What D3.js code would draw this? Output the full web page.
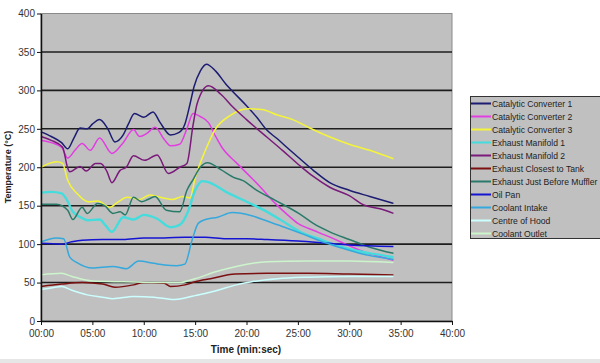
<!DOCTYPE html>
<html>
<head>
<meta charset="utf-8">
<script src="https://cdn.jsdelivr.net/npm/d3@7"></script>
<style>
  body { margin: 0; background: #fff; }
  svg { display: block; font-family: "Liberation Sans", Arial, sans-serif; }
</style>
</head>
<body>
<svg id="chart" width="600" height="363"></svg>
<script>
// series names (legend order) and colours
const names = ["Catalytic Converter 1", "Catalytic Converter 2", "Catalytic Converter 3",
  "Exhaust Manifold 1", "Exhaust Manifold 2", "Exhaust Closest to Tank",
  "Exhaust Just Before Muffler", "Oil Pan", "Coolant Intake", "Centre of Hood", "Coolant Outlet"];
const colors = ["#1c1c72", "#e23ee2", "#f4f43a", "#44dcdc", "#7a1a7a", "#7a1010",
  "#2a7a6a", "#1414d2", "#35a8dc", "#ccffff", "#ccf5cc"];

// [minutes, °C]
const cc1 = [[0,246],[1,240],[2,232],[2.6,224],[3.2,238],[3.8,251],[4.5,250],[5,256],[5.7,262],[6.5,250],[7.2,233],[8,242],[8.5,256],[9.1,270],[10,265],[10.9,272],[11.6,258],[12.6,242],[13.4,245],[14,256],[14.5,282],[14.9,305],[15.5,325],[16.1,334],[17,325],[18,308],[18.7,298],[20,280],[21,265],[22,248],[23,237],[24,225],[25.2,211],[26.5,196],[28.1,180],[30,170],[32,162],[34.3,153]];
const cc2 = [[0,235],[1,232],[2,226],[2.6,212],[3.3,222],[4,231],[4.8,222],[5.7,238],[6.9,218],[8,232],[9,249],[9.6,240],[10.3,244],[11.1,252],[12,236],[12.6,228],[13.5,230],[14.2,250],[14.8,270],[15.5,266],[16.3,258],[17,240],[17.6,226],[19,206],[20.5,186],[21.5,172],[22.8,153],[24,138],[25,127],[26.5,118],[27.6,112],[29.5,101],[31.4,90],[33,84],[34.3,79]];
const cc3 = [[0,200],[0.8,205],[1.5,207],[2.1,205],[2.6,183],[3.5,166],[4.6,155],[5.5,156],[6.7,148],[7.5,155],[8.4,161],[9.6,158],[10.6,164],[11.9,160],[12.8,158],[13.8,162],[14.5,160],[15,186],[16,222],[16.9,248],[18.5,268],[20.1,276],[21.5,275],[23,268],[24.5,262],[26,252],[28,240],[30,230],[32,222],[34.3,211]];
const em1 = [[0,167],[1,168],[2,166],[2.5,158],[3.1,142],[4,134],[4.6,131],[5.7,132],[6.3,124],[6.9,116],[8,135],[9,132],[10,138],[11.3,133],[12.6,122],[13.5,125],[14.3,142],[15,170],[15.7,182],[16.2,181],[18,168],[20.5,152],[22,142],[23.5,130],[25.2,116],[27,107],[28.6,99],[30.5,92],[32.5,87],[34.3,83]];
const em2 = [[0,240],[1,235],[2.1,226],[2.6,199],[2.8,194],[3.8,201],[4.4,195],[5.3,205],[5.8,205],[6.4,195],[6.9,180],[7.7,196],[8.3,200],[9,215],[10.1,209],[11.3,216],[12.4,192],[13.5,200],[14.2,205],[14.8,255],[15.2,283],[16.3,306],[17.5,295],[18.7,278],[20,262],[22,239],[23.5,222],[25.2,202],[26.5,188],[28.1,174],[30,163],[31.4,151],[33,146],[34.3,140]];
const tank = [[0,45],[2,48],[4,50],[6,48],[7.2,44],[9,47],[10,50],[12,49],[12.6,45],[14,47],[15,51],[16.5,55],[18.9,61],[22,62],[26,62],[30,61],[34.3,60]];
const muffler = [[0,152],[1.5,152],[2.6,144],[3.1,132],[4,148],[4.5,140],[5.5,153],[6.2,150],[7,140],[7.7,142],[8.2,138],[9,161],[9.8,155],[10.4,158],[11.1,162],[12.2,144],[13.5,142],[14.2,170],[14.8,184],[15.5,200],[16.2,206],[17.5,197],[18.9,186],[19.6,183],[21,170],[22.8,157],[25.2,139],[26.5,127],[28.1,116],[30,106],[32,96],[34.3,88]];
const oilPan = [[0,101],[2,100],[3,103],[4,105],[6,106],[8,106],[10,108],[12,108],[14,109],[16,109],[18,107],[20,107],[22,106],[25,104],[28,101],[30,99],[34.3,97]];
const intake = [[0,103],[1.5,108],[2.2,107],[2.8,83],[3.5,76],[5,69],[7,71],[8.3,68],[9.5,78],[11,75],[12,73],[13.2,72],[14,74],[14.7,105],[15.3,127],[16,132],[17.2,135],[18.6,141],[20.5,137],[22,130],[23.7,122],[25.5,113],[27,105],[29,96],[31,88],[34.3,80]];
const hood = [[0,41],[1,43],[2,45],[3,40],[4.5,34],[6,31],[7,29],[9,32],[11,31],[13,28],[14,30],[15,33],[17.2,40],[19,47],[20.5,51],[23,55],[26,57],[30,58],[34.3,58]];
const outlet = [[0,60],[2,62],[3,58],[5,52],[8,51],[12,50],[13.5,50],[15,55],[17,64],[19,71],[22,77],[26,78],[30,78],[34.3,76]];

const seriesData = [cc1, cc2, cc3, em1, em2, tank, muffler, oilPan, intake, hood, outlet];
const yTicks = [0, 50, 100, 150, 200, 250, 300, 350, 400];
const xTicks = [0, 5, 10, 15, 20, 25, 30, 35, 40];

const svg = d3.select("#chart");

// faint strip along the bottom edge
svg.append("rect").attr("x", 0).attr("y", 359).attr("width", 600).attr("height", 4).attr("fill", "#e6e6e6");

const x = d3.scaleLinear().domain([0, 40]).range([41, 452]);
const y = d3.scaleLinear().domain([0, 400]).range([321, 13.5]);

// plot area
svg.append("rect")
    .attr("x", x(0)).attr("y", y(400))
    .attr("width", x(40) - x(0)).attr("height", y(0) - y(400))
    .attr("fill", "#c0c0c0")
    .attr("stroke", "#8a8a8a");

// gridlines
svg.append("g").selectAll("line")
    .data(yTicks.filter(d => d > 0 && d < 400))
    .enter().append("line")
    .attr("x1", x(0)).attr("x2", x(40))
    .attr("y1", d => y(d)).attr("y2", d => y(d))
    .attr("stroke", "#1e1e1e")
    .attr("stroke-width", 1.6);

// lines
const line = d3.line()
    .x(d => x(d[0]))
    .y(d => y(d[1]))
    .curve(d3.curveMonotoneX);

svg.append("g").selectAll("path")
    .data(seriesData)
    .enter().append("path")
    .attr("d", line)
    .attr("fill", "none")
    .attr("stroke", (d, i) => colors[i])
    .attr("stroke-width", (d, i) => i === 3 ? 2.4 : 1.5);

// axes
const yAxis = svg.append("g")
    .attr("transform", `translate(${x(0)},0)`)
    .call(d3.axisLeft(y).tickValues(yTicks).tickSize(4).tickSizeOuter(0));

const xAxis = svg.append("g")
    .attr("transform", `translate(0,${y(0)})`)
    .call(d3.axisBottom(x).tickValues(xTicks).tickSize(4).tickSizeOuter(0)
        .tickFormat(d => String(d).padStart(2, "0") + ":00"));

[yAxis, xAxis].forEach(g => {
    g.select(".domain").attr("stroke", "#111").attr("stroke-width", 1.5);
    g.selectAll(".tick line").attr("stroke", "#111");
    g.selectAll("text").attr("fill", "#333").style("font-size", "10px")
        .style("font-family", "'Liberation Sans', Arial, sans-serif");
});
yAxis.selectAll("text").attr("x", -6);
xAxis.selectAll("text").attr("y", 9);

// axis titles
svg.append("text")
    .attr("transform", "translate(11,167) rotate(-90)")
    .attr("text-anchor", "middle")
    .style("font-size", "9px").style("font-weight", "bold")
    .attr("fill", "#222")
    .text("Temperature (°C)");

svg.append("text")
    .attr("x", 246).attr("y", 353)
    .attr("text-anchor", "middle")
    .style("font-size", "10px").style("font-weight", "bold")
    .attr("fill", "#222")
    .text("Time (min:sec)");

// legend
const legend = svg.append("g");
legend.append("rect")
    .attr("x", 470.5).attr("y", 96.5)
    .attr("width", 140).attr("height", 142)
    .attr("fill", "#c0c0c0")
    .attr("stroke", "#333");

const item = legend.selectAll("g.item")
    .data(names)
    .enter().append("g")
    .attr("class", "item")
    .attr("transform", (d, i) => `translate(0,${103.5 + i * 13})`);

item.append("line")
    .attr("x1", 471).attr("x2", 491)
    .attr("stroke", (d, i) => colors[i])
    .attr("stroke-width", 2);

item.append("text")
    .attr("x", 492).attr("dy", "0.35em")
    .style("font-size", "8.6px")
    .attr("fill", "#222")
    .text(d => d);
</script>
</body>
</html>
